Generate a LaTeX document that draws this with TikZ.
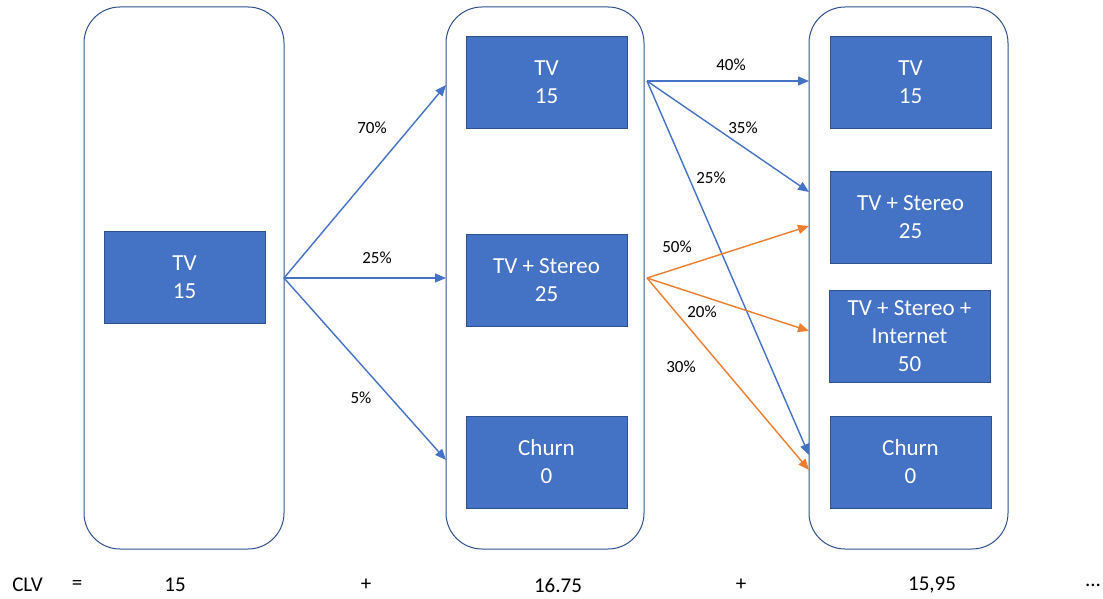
\documentclass[tikz,border=0pt]{standalone}
\usepackage{fontspec}
\setmainfont{Carlito}
\usetikzlibrary{arrows.meta}
\definecolor{boxblue}{HTML}{4472C4}
\definecolor{boxedge}{HTML}{2F528F}
\definecolor{arrblue}{HTML}{4472C4}
\definecolor{arrorange}{HTML}{ED7D31}
\tikzset{
  container/.style={draw=boxedge, line width=1pt, rounded corners=36pt, fill=white},
  state/.style={draw=boxedge, line width=0.8pt, fill=boxblue, text=white, minimum width=161pt, minimum height=92pt, align=center, inner sep=0pt, font=\fontsize{23}{28}\selectfont},
  barrow/.style={draw=arrblue, line width=1.4pt, -{Triangle[length=11pt,width=9pt]}},
  oarrow/.style={draw=arrorange, line width=1.4pt, -{Triangle[length=11pt,width=9pt]}},
  pct/.style={font=\fontsize{17}{19}\selectfont, text=black, inner sep=0pt},
  clv/.style={font=\fontsize{21}{23}\selectfont, text=black, inner sep=0pt},
}
\begin{document}
\begin{tikzpicture}[x=1pt,y=-1pt]
\useasboundingbox (0,0) rectangle (1103,599);
% containers
\draw[container] (84,7) rectangle (284,549);
\draw[container] (446,7) rectangle (644,549);
\draw[container] (809,7) rectangle (1008,549);
% states
\node[state] (a1) at (184.5,277) {TV\\15};
\node[state] (b1) at (546.5,82) {TV\\15};
\node[state] (b2) at (546.5,280.5) {TV + Stereo\\25};
\node[state] (b3) at (546.5,462) {Churn\\0};
\node[state] (c1) at (910.5,82) {TV\\15};
\node[state] (c2) at (910.5,217.5) {TV + Stereo\\25};
\node[state] (c3) at (909.5,336) {TV + Stereo +\\Internet\\50};
\node[state] (c4) at (910.5,462) {Churn\\0};
% connector points on container borders
\coordinate (s1) at (284,278);
\coordinate (e11) at (446,85);
\coordinate (e12) at (446,278);
\coordinate (e13) at (446,460);
\coordinate (s2) at (647,81);
\coordinate (s3) at (647,278);
\coordinate (e21) at (809,81);
\coordinate (e22) at (809,192);
\coordinate (e23) at (809,455);
\coordinate (e31) at (809,226);
\coordinate (e32) at (809,331);
\coordinate (e33) at (809,470);
% arrows
\draw[barrow] (s1) -- (e11);
\draw[barrow] (s1) -- (e12);
\draw[barrow] (s1) -- (e13);
\draw[barrow] (s2) -- (e21);
\draw[barrow] (s2) -- (e22);
\draw[barrow] (s2) -- (e23);
\draw[oarrow] (s3) -- (e31);
\draw[oarrow] (s3) -- (e32);
\draw[oarrow] (s3) -- (e33);
% labels
\node[pct] (l1) at (372,128) {70\%};
\node[pct] (l2) at (377,258) {25\%};
\node[pct] (l3) at (361,398) {5\%};
\node[pct] (l4) at (731,65) {40\%};
\node[pct] (l5) at (743,128) {35\%};
\node[pct] (l6) at (711,178) {25\%};
\node[pct] (l7) at (677,247) {50\%};
\node[pct] (l8) at (702,312) {20\%};
\node[pct] (l9) at (681,367) {30\%};
% CLV line
\node[clv] (t1) at (27.5,585) {CLV};
\node[clv] (t2) at (77,585) {=};
\node[clv] (t3) at (175,585) {15};
\node[clv] (t4) at (366,585) {+};
\node[clv] (t5) at (558,585) {16.75};
\node[clv] (t6) at (741,585) {+};
\node[clv] (t7) at (932,585) {15,95};
\node[clv] (t8) at (1093,585) {...};
\end{tikzpicture}
\end{document}
